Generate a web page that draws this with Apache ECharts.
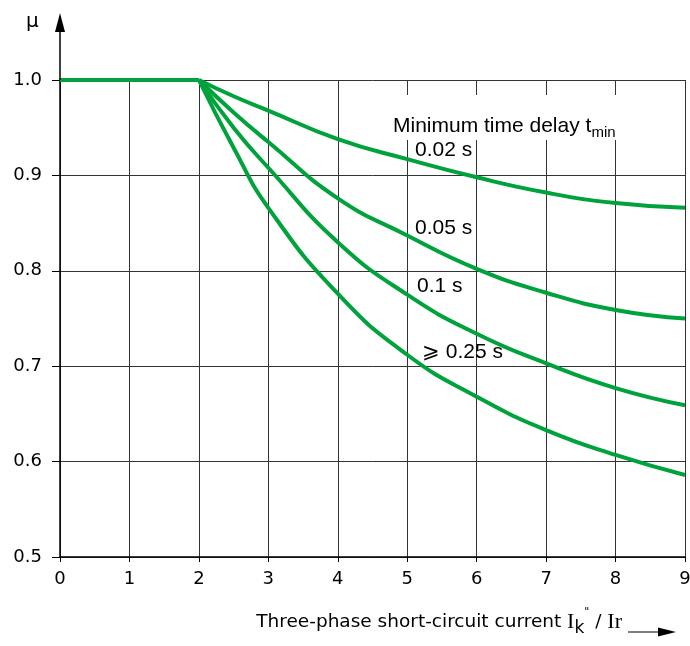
<!DOCTYPE html>
<html>
<head>
<meta charset="utf-8">
<script src="https://cdn.jsdelivr.net/npm/echarts@6/dist/echarts.min.js"></script>
<style>
  html, body { margin: 0; padding: 0; background: #fff; overflow: hidden; }
  #chart { width: 690px; height: 646px; }
</style>
</head>
<body>
<div id="chart"></div>
<script>
// flat part, same for every delay
const xFlat = [0, 2];
const muFlat = [1.0, 1.0];

// falling part
const xCurve = [2, 2.5, 3, 4, 5, 6, 7, 8, 9];
const mu002 = [1.0, 0.983, 0.968, 0.938, 0.917, 0.898, 0.882, 0.871, 0.866];
const mu005 = [1.0, 0.966, 0.935, 0.876, 0.837, 0.802, 0.777, 0.759, 0.750];
const mu01 = [1.0, 0.950, 0.908, 0.830, 0.775, 0.734, 0.703, 0.677, 0.659];
const mu025 = [1.0, 0.929, 0.866, 0.776, 0.712, 0.668, 0.633, 0.607, 0.586];

const curveLabels = ["0.02 s", "0.05 s", "0.1 s", "\u2A7E 0.25 s"];

const GREEN = "#00a23c";
const FONT = "DejaVu Sans";
const LABEL_FONT = "Liberation Sans";

const pairs = (xs, ys) => xs.map((x, i) => [x, ys[i]]);

const curveSeries = (name, ys) => ({
  name: name,
  type: "line",
  data: pairs(xCurve, ys),
  smooth: 0.5,
  showSymbol: false,
  clip: false,
  lineStyle: { color: GREEN, width: 4 },
});

const curveLabel = (text, x, y) => ({
  type: "text",
  z: 10,
  x: x,
  y: y,
  style: { text: text, fontFamily: LABEL_FONT, fontSize: 21, fill: "#000", verticalAlign: "middle" },
});

const chart = echarts.init(document.getElementById("chart"), null, { renderer: "canvas" });

const option = {
  animation: false,
  backgroundColor: "#fff",
  grid: { left: 60, right: 5, top: 80, bottom: 89, outerBoundsMode: "none", containLabel: false },
  xAxis: {
    type: "value",
    min: 0,
    max: 9,
    interval: 1,
    axisLine: { show: true, onZero: false, lineStyle: { color: "#000", width: 1.5 } },
    axisTick: { show: true, length: 5, lineStyle: { color: "#000" } },
    axisLabel: { color: "#000", fontFamily: FONT, fontSize: 18, margin: 13 },
    splitLine: { show: true, lineStyle: { color: "#333", width: 1 } },
  },
  yAxis: {
    type: "value",
    min: 0.5,
    max: 1.0,
    interval: 0.1,
    axisLine: { show: true, onZero: false, lineStyle: { color: "#000", width: 1.5 } },
    axisTick: { show: true, length: 8, lineStyle: { color: "#000" } },
    axisLabel: {
      color: "#000",
      fontFamily: FONT,
      fontSize: 18,
      margin: 18,
      formatter: (v) => v.toFixed(1),
    },
    splitLine: { show: true, lineStyle: { color: "#333", width: 1 } },
  },
  series: [
    {
      name: "flat",
      type: "line",
      data: pairs(xFlat, muFlat),
      showSymbol: false,
      clip: false,
      lineStyle: { color: GREEN, width: 4 },
    },
    curveSeries(curveLabels[0], mu002),
    curveSeries(curveLabels[1], mu005),
    curveSeries(curveLabels[2], mu01),
    curveSeries(curveLabels[3], mu025),
  ],
  graphic: [
    // y axis arrow above the plot
    {
      type: "line",
      z: 10,
      shape: { x1: 60, y1: 80, x2: 60, y2: 28 },
      style: { stroke: "#000", lineWidth: 1.5 },
    },
    {
      type: "polygon",
      z: 10,
      shape: { points: [[60, 13], [55, 32], [65, 32]] },
      style: { fill: "#000" },
    },
    {
      type: "text",
      z: 10,
      left: 26,
      top: 12,
      style: { text: "\u03BC", fontFamily: FONT, fontSize: 20, fill: "#000" },
    },
    // white box behind the legend title
    {
      type: "rect",
      z: 5,
      shape: { x: 390, y: 95, width: 235, height: 45 },
      style: { fill: "#fff" },
    },
    {
      type: "text",
      z: 10,
      x: 393,
      y: 126,
      style: {
        text: "{a|Minimum time delay t}{s|min}",
        verticalAlign: "middle",
        rich: {
          a: { fontFamily: LABEL_FONT, fontSize: 21, lineHeight: 28, verticalAlign: "middle", fill: "#000" },
          s: { fontFamily: LABEL_FONT, fontSize: 15, lineHeight: 18, verticalAlign: "bottom", fill: "#000" },
        },
      },
    },
    curveLabel(curveLabels[0], 415, 150),
    curveLabel(curveLabels[1], 415, 228),
    curveLabel(curveLabels[2], 417, 286),
    curveLabel(curveLabels[3], 422, 352),
    // x axis name and arrow
    {
      type: "text",
      z: 10,
      x: 622,
      y: 622,
      style: {
        text: "{a|Three-phase short-circuit current }{i|I}{k|k}{q|\"}{a| / }{i|Ir}",
        align: "right",
        verticalAlign: "middle",
        rich: {
          a: { fontFamily: FONT, fontSize: 18.5, lineHeight: 30, verticalAlign: "middle", fill: "#000" },
          i: { fontFamily: "Liberation Serif", fontSize: 22, lineHeight: 30, verticalAlign: "middle", fill: "#000" },
          k: { fontFamily: FONT, fontSize: 17, lineHeight: 16, verticalAlign: "bottom", fill: "#000" },
          q: { fontFamily: FONT, fontSize: 11, lineHeight: 16, verticalAlign: "top", fill: "#000" },
        },
      },
    },
    {
      type: "line",
      z: 10,
      shape: { x1: 628, y1: 632, x2: 664, y2: 632 },
      style: { stroke: "#000", lineWidth: 1.2 },
    },
    {
      type: "polygon",
      z: 10,
      shape: { points: [[676, 632], [658, 627.5], [658, 636.5]] },
      style: { fill: "#000" },
    },
  ],
};

chart.setOption(option);
</script>
</body>
</html>
